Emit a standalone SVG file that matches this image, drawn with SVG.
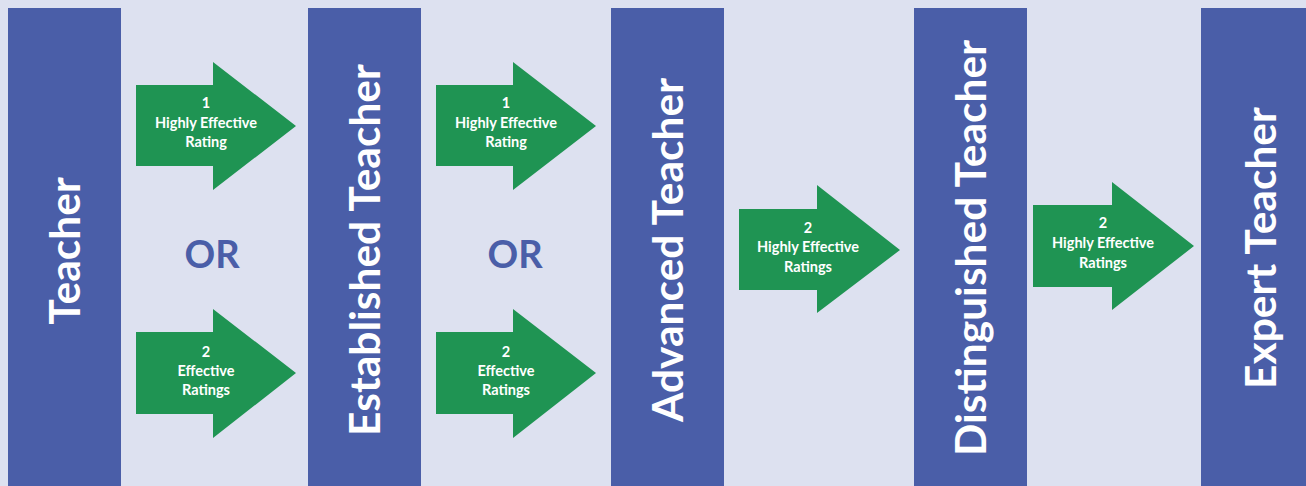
<svg xmlns="http://www.w3.org/2000/svg" width="1306" height="486" viewBox="0 0 1306 486">
<style>
.bg{fill:#DDE1F0}
.bar{fill:#4A5EA8}
.arrow{fill:#1F9453}
.title{font-family:Lato,"Open Sans",sans-serif;font-weight:bold;font-size:42.5px;fill:#FFFFFF;text-anchor:middle}
.lbl{font-family:Lato,"Open Sans",sans-serif;font-weight:bold;font-size:14.5px;fill:#FFFFFF;text-anchor:middle}
.or{font-family:Lato,"Open Sans",sans-serif;font-weight:bold;font-size:38px;fill:#4A5EA8;text-anchor:middle}
</style>
<rect class="bg" x="0" y="0" width="1306" height="486"/>
<g id="teacher">
<rect class="bar" x="8" y="8" width="113" height="478"/>
<text class="title" transform="translate(80,251) rotate(-90)">Teacher</text>
</g>
<g id="established">
<rect class="bar" x="308" y="8" width="113" height="478"/>
<text class="title" transform="translate(380,250) rotate(-90)">Established Teacher</text>
</g>
<g id="advanced">
<rect class="bar" x="611" y="8" width="113" height="478"/>
<text class="title" transform="translate(683,250) rotate(-90)">Advanced Teacher</text>
</g>
<g id="distinguished">
<rect class="bar" x="914" y="8" width="113" height="478"/>
<text class="title" transform="translate(986,248) rotate(-90)">Distinguished Teacher</text>
</g>
<g id="expert">
<rect class="bar" x="1201" y="8" width="105" height="478"/>
<text class="title" transform="translate(1276,248) rotate(-90)">Expert Teacher</text>
</g>
<g id="connectors">
<g id="a1">
<path class="arrow" d="M136,85 H213 V62 L296,126 L213,190 V166 H136 Z"/>
<text class="lbl" x="206" y="108">1</text>
<text class="lbl" x="206" y="128">Highly Effective</text>
<text class="lbl" x="206" y="147">Rating</text>
</g>
<g id="a2">
<path class="arrow" d="M136,332 H213 V309 L296,373 L213,438 V414 H136 Z"/>
<text class="lbl" x="206" y="357">2</text>
<text class="lbl" x="206" y="376">Effective</text>
<text class="lbl" x="206" y="395">Ratings</text>
</g>
<g id="a3">
<path class="arrow" d="M436,85 H513 V62 L596,126 L513,190 V166 H436 Z"/>
<text class="lbl" x="506" y="108">1</text>
<text class="lbl" x="506" y="128">Highly Effective</text>
<text class="lbl" x="506" y="147">Rating</text>
</g>
<g id="a4">
<path class="arrow" d="M436,332 H513 V309 L596,373 L513,438 V414 H436 Z"/>
<text class="lbl" x="506" y="357">2</text>
<text class="lbl" x="506" y="376">Effective</text>
<text class="lbl" x="506" y="395">Ratings</text>
</g>
<g id="a5">
<path class="arrow" d="M739,209 H817 V185 L900,250 L817,313 V290 H739 Z"/>
<text class="lbl" x="808" y="233">2</text>
<text class="lbl" x="808" y="252">Highly Effective</text>
<text class="lbl" x="808" y="272">Ratings</text>
</g>
<g id="a6">
<path class="arrow" d="M1033,205 H1112 V182 L1194,246 L1112,310 V287 H1033 Z"/>
<text class="lbl" x="1103" y="228">2</text>
<text class="lbl" x="1103" y="248">Highly Effective</text>
<text class="lbl" x="1103" y="268">Ratings</text>
</g>
</g>
<g id="or1"><text class="or" x="212" y="268">OR</text></g>
<g id="or2"><text class="or" x="515" y="268">OR</text></g>
</svg>
